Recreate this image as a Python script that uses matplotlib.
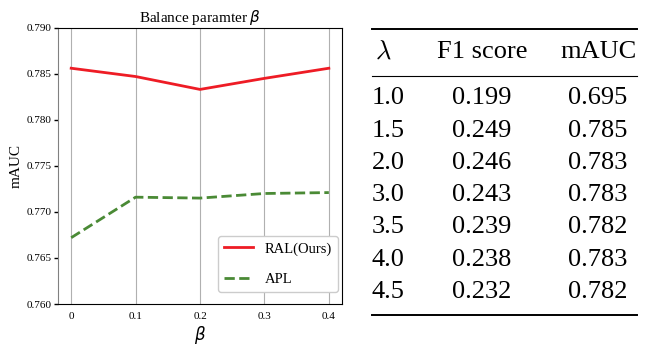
import matplotlib
matplotlib.use("Agg")
import matplotlib.pyplot as plt

beta = [0, 0.1, 0.2, 0.3, 0.4]
beta_labels = ["0", "0.1", "0.2", "0.3", "0.4"]
ral = [0.7856, 0.7847, 0.7833, 0.7845, 0.7856]
apl = [0.7672, 0.7716, 0.7715, 0.7720, 0.7721]
yticks = [0.760, 0.765, 0.770, 0.775, 0.780, 0.785, 0.790]

tab_lambda = ["1.0", "1.5", "2.0", "3.0", "3.5", "4.0", "4.5"]
tab_f1 = ["0.199", "0.249", "0.246", "0.243", "0.239", "0.238", "0.232"]
tab_mauc = ["0.695", "0.785", "0.783", "0.783", "0.782", "0.783", "0.782"]

plt.rcParams['font.family'] = ['Liberation Serif', 'DejaVu Serif']

fig = plt.figure(figsize=(6.45, 3.49), dpi=100)
ax = fig.add_axes([0.0904, 0.1289, 0.4394, 0.7917])

ax.plot(beta, ral, color='#ee1c25', lw=2, label='RAL(Ours)')
ax.plot(beta, apl, color='#4a8a35', lw=2, ls='--', label='APL')
ax.set_ylim(0.760, 0.790)
ax.set_yticks(yticks)
ax.set_yticklabels([f"{v:.3f}" for v in yticks], fontsize=8)
ax.set_xticks(beta)
ax.set_xticklabels(beta_labels, fontsize=8)
ax.tick_params(axis='x', length=0, pad=6)
ax.tick_params(axis='y', length=3, width=1, pad=2)
ax.grid(axis='x', color='#b0b0b0', lw=0.8)
ax.spines['left'].set_color('#808080')
ax.set_title(r"Balance paramter $\beta$", fontsize=11, pad=4)
ax.set_xlabel(r"$\beta$", fontsize=12, labelpad=2)
ax.set_ylabel("mAUC", fontsize=11)
ax.yaxis.set_label_coords(-0.125, 0.5)
leg = ax.legend(loc='lower right', bbox_to_anchor=(0.987, 0.043), borderaxespad=0,
                fontsize=10.5, framealpha=1, handlelength=2.0, labelspacing=1.2,
                borderpad=0.4, handletextpad=0.8)

# Table on the right
W, H = 645, 349
def fx(px):
    return px / W
def fy(py):
    return 1 - py / H

fs = 19
x0, x1 = 371.7, 636.7
fig.add_artist(plt.Line2D([fx(x0), fx(x1)], [fy(29.3), fy(29.3)], color='black', lw=1.4, transform=fig.transFigure))
fig.add_artist(plt.Line2D([fx(x0), fx(x1)], [fy(76), fy(76)], color='black', lw=0.8, transform=fig.transFigure))
fig.add_artist(plt.Line2D([fx(x0), fx(x1)], [fy(315), fy(315)], color='black', lw=1.4, transform=fig.transFigure))

hy = 52
fig.text(fx(383), fy(hy), r"$\lambda$", fontsize=fs, ha='center', va='center', math_fontfamily='cm')
fig.text(fx(482), fy(hy), "F1 score", fontsize=fs, ha='center', va='center')
fig.text(fx(599), fy(hy), "mAUC", fontsize=fs, ha='center', va='center')

row0 = 98.5
dr = 32.2
for i, (l, f, m) in enumerate(zip(tab_lambda, tab_f1, tab_mauc)):
    y = fy(row0 + i * dr)
    fig.text(fx(371.7), y, l, fontsize=fs, ha='left', va='center')
    fig.text(fx(482), y, f, fontsize=fs, ha='center', va='center')
    fig.text(fx(598), y, m, fontsize=fs, ha='center', va='center')

fig.savefig("out.png", dpi=100)
